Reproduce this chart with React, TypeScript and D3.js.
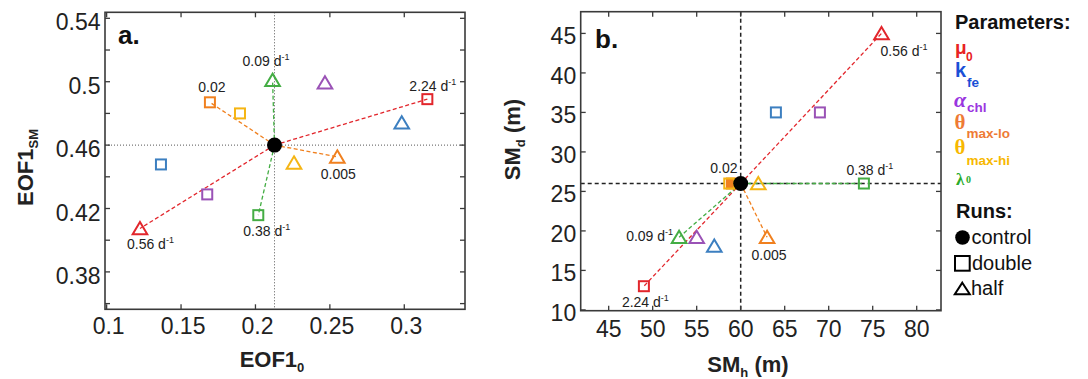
import React from 'react';
import * as d3 from 'd3';

// ---------------- DATA ----------------
// parameter order: mu0, k_fe, alpha_chl, theta_max-lo, theta_max-hi, lambda0
const PARAM_KEYS = ['mu0', 'kfe', 'alpha', 'thetaLo', 'thetaHi', 'lambda0'];
const CONNECTED = ['mu0', 'thetaLo', 'lambda0'];

// Panel a: EOF1_0 (x) vs EOF1_SM (y)
const A_CONTROL = [0.2128, 0.46];
const A_DOUBLE_X = [0.3155, 0.1365, 0.1676, 0.1694, 0.1896, 0.2019];
const A_DOUBLE_Y = [0.489, 0.4478, 0.4289, 0.487, 0.48, 0.4158];
const A_HALF_X = [0.1224, 0.2983, 0.2467, 0.255, 0.2259, 0.2115];
const A_HALF_Y = [0.4074, 0.4741, 0.4994, 0.4526, 0.4488, 0.501];
const A_X_TICKS = [0.1, 0.15, 0.2, 0.25, 0.3];
const A_X_TICK_LABELS = ['0.1', '0.15', '0.2', '0.25', '0.3'];
const A_Y_TICKS = [0.36, 0.38, 0.4, 0.42, 0.44, 0.46, 0.48, 0.5, 0.52, 0.54];
const A_Y_LABELED = [0.38, 0.42, 0.46, 0.5, 0.54];
const A_Y_TICK_LABELS = ['0.38', '0.42', '0.46', '0.5', '0.54'];

// Panel b: SM_h (x) vs SM_d (y)
const B_CONTROL = [60, 26];
const B_DOUBLE_X = [49, 64, 69, 59, 58.7, 74];
const B_DOUBLE_Y = [13, 35, 35, 26, 26, 26];
const B_HALF_X = [76, 57, 55, 63, 62, 53];
const B_HALF_Y = [45, 18.1, 19.2, 19.2, 26, 19.2];
const B_X_TICKS = [45, 50, 55, 60, 65, 70, 75, 80];
const B_X_TICK_LABELS = ['45', '50', '55', '60', '65', '70', '75', '80'];
const B_Y_TICKS = [10, 15, 20, 25, 30, 35, 40, 45];
const B_Y_TICK_LABELS = ['10', '15', '20', '25', '30', '35', '40', '45'];

// value annotations: [parameter, run, main text]
const A_NOTES = [
  ['mu0', 'double', '2.24 d'],
  ['mu0', 'half', '0.56 d'],
  ['thetaLo', 'double', '0.02'],
  ['thetaLo', 'half', '0.005'],
  ['lambda0', 'half', '0.09 d'],
  ['lambda0', 'double', '0.38 d'],
];
const B_NOTES = [
  ['mu0', 'half', '0.56 d'],
  ['mu0', 'double', '2.24 d'],
  ['thetaLo', 'double', '0.02'],
  ['thetaLo', 'half', '0.005'],
  ['lambda0', 'half', '0.09 d'],
  ['lambda0', 'double', '0.38 d'],
];

// ---------------- STYLE / LAYOUT ----------------
const MARKER_COLORS = ['#e2262c', '#3c7fc0', '#9a52b6', '#f0801f', '#f5b514', '#44ad44'];
const FONT = '"Liberation Sans", Arial, Helvetica, sans-serif';
const SERIF = '"Liberation Serif", "DejaVu Serif", serif';
const TXT = '#222';

// label offsets relative to marker (pixels): [dx, dy, anchor]
const A_NOTE_LAYOUT: [number, number, string][] = [
  [-18, -8, 'start'],
  [-13, 21, 'start'],
  [2, -10.5, 'middle'],
  [1, 22, 'middle'],
  [-30, -14, 'start'],
  [-15, 21, 'start'],
];
const B_NOTE_LAYOUT: [number, number, string][] = [
  [-1, 23, 'start'],
  [-22, 21, 'start'],
  [-8, -11, 'middle'],
  [2, 22.5, 'middle'],
  [-6, 3.5, 'end'],
  [-17.5, -8.5, 'start'],
];

const SQ = 10;

function Square({ x, y, color, fill = 'none' }: any) {
  return (
    <rect x={x - SQ / 2} y={y - SQ / 2} width={SQ} height={SQ} fill={fill} stroke={color} strokeWidth={2} />
  );
}
function Triangle({ x, y, color }: any) {
  const p = d3.path();
  p.moveTo(x, y - 6.5);
  p.lineTo(x + 7.3, y + 5.8);
  p.lineTo(x - 7.3, y + 5.8);
  p.closePath();
  return <path d={p.toString()} fill="none" stroke={color} strokeWidth={2} strokeLinejoin="miter" />;
}

function Note({ x, y, text, anchor }: any) {
  const hasUnit = text.endsWith('d');
  return (
    <text x={x} y={y} fontFamily={FONT} fontSize={14} fill={TXT} textAnchor={anchor}>
      {text}
      {hasUnit && (
        <tspan fontSize={9} dy={-6}>
          -1
        </tspan>
      )}
    </text>
  );
}

function Frame({ x0, x1, y0, y1 }: any) {
  return <rect x={x0} y={y0} width={x1 - x0} height={y1 - y0} fill="none" stroke="#3a3a3a" strokeWidth={1.6} />;
}

function Panel({
  xs, ys, control, dx, dy, hx, hy, xTicks, xTickLabels, yTicks, yLabeled, yTickLabels,
  notes, noteLayout, refStyle, labelDx, yLabelDy, xLabelDy, panelLabel, panelLabelPos, filledIdx,
}: any) {
  const [x0, x1] = xs.range();
  const [y1, y0] = ys.range();
  const cx = xs(control[0]);
  const cy = ys(control[1]);
  const TL = 5;
  const pos = (key: string, run: string) => {
    const i = PARAM_KEYS.indexOf(key);
    return run === 'double' ? [xs(dx[i]), ys(dy[i])] : [xs(hx[i]), ys(hy[i])];
  };
  return (
    <g>
      {/* reference lines */}
      <line x1={cx} x2={cx} y1={y0} y2={y1} {...refStyle} />
      <line x1={x0} x2={x1} y1={cy} y2={cy} {...refStyle} />
      {/* ticks */}
      {xTicks.map((t: number, i: number) => (
        <g key={'xt' + i}>
          <line x1={xs(t)} x2={xs(t)} y1={y1} y2={y1 - TL} stroke="#3a3a3a" strokeWidth={1.3} />
          <line x1={xs(t)} x2={xs(t)} y1={y0} y2={y0 + TL} stroke="#3a3a3a" strokeWidth={1.3} />
          <text x={xs(t) + labelDx} y={y1 + xLabelDy} fontFamily={FONT} fontSize={23} fill={TXT} textAnchor="middle">
            {xTickLabels[i]}
          </text>
        </g>
      ))}
      {yTicks.map((t: number, i: number) => (
        <g key={'yt' + i}>
          <line x1={x0} x2={x0 + TL} y1={ys(t)} y2={ys(t)} stroke="#3a3a3a" strokeWidth={1.3} />
          <line x1={x1} x2={x1 - TL} y1={ys(t)} y2={ys(t)} stroke="#3a3a3a" strokeWidth={1.3} />
        </g>
      ))}
      {yLabeled.map((t: number, i: number) => (
        <text key={'yl' + i} x={x0 - 4.5} y={ys(t) + yLabelDy} fontFamily={FONT} fontSize={23} fill={TXT} textAnchor="end">
          {yTickLabels[i]}
        </text>
      ))}
      {/* connecting lines */}
      {CONNECTED.map((key) => {
        const i = PARAM_KEYS.indexOf(key);
        const d = pos(key, 'double');
        const h = pos(key, 'half');
        return (
          <g key={'c' + key}>
            <line x1={cx} y1={cy} x2={d[0]} y2={d[1]} stroke={MARKER_COLORS[i]} strokeWidth={1.3} strokeDasharray="4,2.5" />
            <line x1={cx} y1={cy} x2={h[0]} y2={h[1]} stroke={MARKER_COLORS[i]} strokeWidth={1.3} strokeDasharray="4,2.5" />
          </g>
        );
      })}
      {/* markers */}
      {PARAM_KEYS.map((key, i) => (
        <g key={'m' + key}>
          <Square x={xs(dx[i])} y={ys(dy[i])} color={MARKER_COLORS[i]} fill={i === filledIdx ? MARKER_COLORS[i] : 'none'} />
          <Triangle x={xs(hx[i])} y={ys(hy[i])} color={MARKER_COLORS[i]} />
        </g>
      ))}
      <circle cx={cx} cy={cy} r={7.5} fill="#000" />
      {/* notes */}
      {notes.map((n: any, k: number) => {
        const p = pos(n[0], n[1]);
        const [ox, oy, anchor] = noteLayout[k];
        return <Note key={'n' + k} x={p[0] + ox} y={p[1] + oy} text={n[2]} anchor={anchor} />;
      })}
      <Frame x0={x0} x1={x1} y0={y0} y1={y1} />
      <text x={panelLabelPos[0]} y={panelLabelPos[1]} fontFamily={FONT} fontWeight="bold" fontSize={26} fill="#111">
        {panelLabel}
      </text>
    </g>
  );
}

function Legend() {
  const b = { fontFamily: FONT, fontWeight: 'bold' as const };
  return (
    <g>
      <text x={955} y={28.5} {...b} fontSize={20} fill="#111">Parameters:</text>
      <text x={955} y={54} {...b} fontSize={19} fill="#e82224">μ</text>
      <text x={966} y={60.5} {...b} fontSize={12} fill="#e82224">0</text>
      <text x={955} y={77.3} {...b} fontSize={20} fill="#1a4fd6">k</text>
      <text x={967} y={86.7} {...b} fontSize={13.5} fill="#1a4fd6">fe</text>
      <text x={954} y={107} fontFamily={SERIF} fontStyle="italic" fontWeight="bold" fontSize={22} fill="#9a35e0">α</text>
      <text x={967} y={111.7} {...b} fontSize={13.5} fill="#9a35e0">chl</text>
      <text x={954.5} y={129} fontFamily={SERIF} fontWeight="bold" fontSize={21} fill="#ee7b35">θ</text>
      <text x={966.5} y={138.3} {...b} fontSize={13.5} fill="#ee7b35">max-lo</text>
      <text x={954.5} y={154} fontFamily={SERIF} fontWeight="bold" fontSize={21} fill="#f7b801">θ</text>
      <text x={966.5} y={165} {...b} fontSize={13.5} fill="#f7b801">max-hi</text>
      <text x={956} y={185} fontFamily={SERIF} fontWeight="bold" fontSize={17} fill="#2aab2a">λ</text>
      <text x={966} y={183} fontFamily={SERIF} fontWeight="bold" fontSize={10} fill="#2aab2a">0</text>

      <text x={956} y={218} {...b} fontSize={20} fill="#111">Runs:</text>
      <circle cx={962.5} cy={237.5} r={7.3} fill="#000" />
      <text x={971.5} y={243.5} fontFamily={FONT} fontSize={20} fill="#111">control</text>
      <rect x={955} y={256} width={14.7} height={14.7} fill="none" stroke="#000" strokeWidth={2} />
      <text x={972} y={270} fontFamily={FONT} fontSize={20} fill="#111">double</text>
      <path d="M962.3,282.7 L969.8,294.2 L954.8,294.2 Z" fill="none" stroke="#000" strokeWidth={2} />
      <text x={971} y={295} fontFamily={FONT} fontSize={20} fill="#111">half</text>
    </g>
  );
}

export default function App() {
  const xA = d3.scaleLinear().domain([0.0989, 0.3408]).range([105, 465]);
  const yA = d3.scaleLinear().domain([0.3564, 0.5438]).range([309.3, 12.3]);
  const xB = d3.scaleLinear().domain([41.82, 82.76]).range([580.7, 941]);
  const yB = d3.scaleLinear().domain([9.9, 47.75]).range([310.7, 11.7]);

  const titleStyle = { fontFamily: FONT, fontWeight: 'bold' as const, fontSize: 22, fill: '#222' };

  return (
    <svg width={1088} height={379} style={{ position: 'absolute', left: 0, top: 0, background: '#fff' }}>
      <rect x={0} y={0} width={1088} height={379} fill="#fff" />
      <Panel
        xs={xA} ys={yA} control={A_CONTROL}
        dx={A_DOUBLE_X} dy={A_DOUBLE_Y} hx={A_HALF_X} hy={A_HALF_Y}
        xTicks={A_X_TICKS} xTickLabels={A_X_TICK_LABELS}
        yTicks={A_Y_TICKS} yLabeled={A_Y_LABELED} yTickLabels={A_Y_TICK_LABELS}
        notes={A_NOTES} noteLayout={A_NOTE_LAYOUT}
        refStyle={{ stroke: '#555', strokeWidth: 1, strokeDasharray: '1,2' }}
        labelDx={2} yLabelDy={12} xLabelDy={24.7}
        panelLabel="a." panelLabelPos={[118, 43.5]} filledIdx={-1}
      />
      <Panel
        xs={xB} ys={yB} control={B_CONTROL}
        dx={B_DOUBLE_X} dy={B_DOUBLE_Y} hx={B_HALF_X} hy={B_HALF_Y}
        xTicks={B_X_TICKS} xTickLabels={B_X_TICK_LABELS}
        yTicks={B_Y_TICKS} yLabeled={B_Y_TICKS} yTickLabels={B_Y_TICK_LABELS}
        notes={B_NOTES} noteLayout={B_NOTE_LAYOUT}
        refStyle={{ stroke: '#222', strokeWidth: 1.5, strokeDasharray: '4,3' }}
        labelDx={0} yLabelDy={11} xLabelDy={26}
        panelLabel="b." panelLabelPos={[595, 47.5]} filledIdx={3}
      />
      {/* axis titles */}
      <text x={272} y={367} textAnchor="middle" {...titleStyle}>
        EOF1<tspan fontSize={13} dy={5}>0</tspan>
      </text>
      <text transform="translate(33,167.5) rotate(-90)" textAnchor="middle" {...titleStyle}>
        EOF1<tspan fontSize={13} dy={5}>SM</tspan>
      </text>
      <text x={748} y={372} textAnchor="middle" {...titleStyle}>
        SM<tspan fontSize={13} dy={5}>h</tspan>
        <tspan dy={-5}> (m)</tspan>
      </text>
      <text transform="translate(520,139.5) rotate(-90)" textAnchor="middle" {...titleStyle}>
        SM<tspan fontSize={13} dy={5}>d</tspan>
        <tspan dy={-5}> (m)</tspan>
      </text>
      <Legend />
    </svg>
  );
}
